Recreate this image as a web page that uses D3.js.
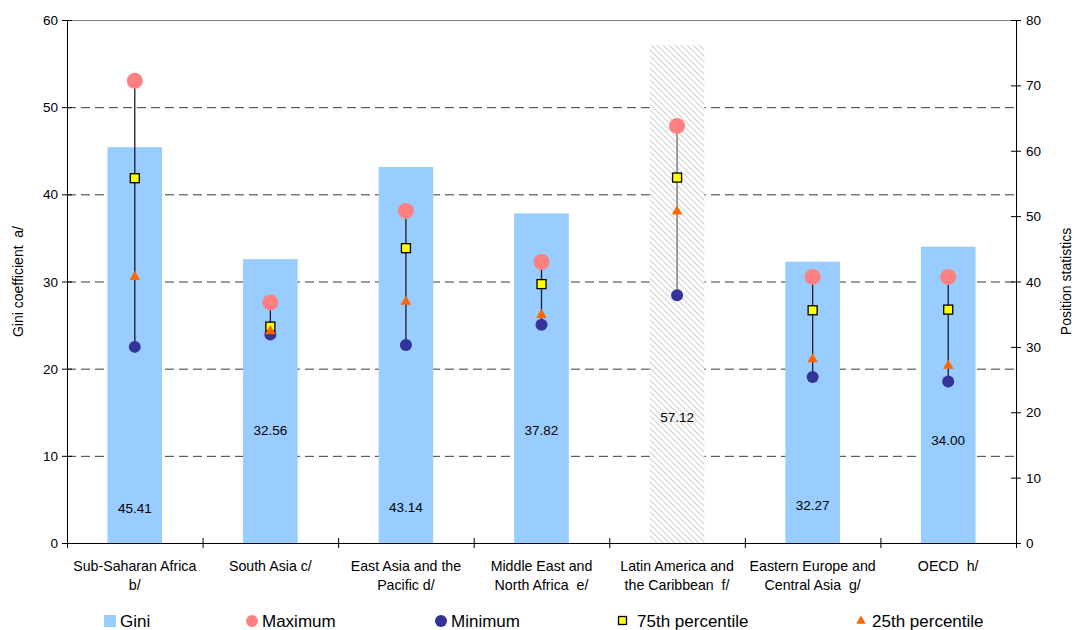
<!DOCTYPE html>
<html>
<head>
<meta charset="utf-8">
<script src="https://cdn.jsdelivr.net/npm/d3@7"></script>
<style>
  html, body { margin: 0; padding: 0; background: #fff; }
  svg { display: block; font-family: "Liberation Sans", Arial, sans-serif; }
  svg text { white-space: pre; }
</style>
</head>
<body>
<svg id="chart" width="1074" height="630"></svg>
<script>
// ---- data ----
const categories = [
  ["Sub-Saharan Africa", "b/"],
  ["South Asia c/"],
  ["East Asia and the", "Pacific d/"],
  ["Middle East and", "North Africa  e/"],
  ["Latin America and", "the Caribbean  f/"],
  ["Eastern Europe and", "Central Asia  g/"],
  ["OECD  h/"]
];
const gini        = [45.41, 32.56, 43.14, 37.82, 57.12, 32.27, 34.00];
const maximum     = [70.7, 36.8, 50.8, 43.0, 63.8, 40.7, 40.7];
const minimum     = [30.0, 31.9, 30.3, 33.4, 37.9, 25.4, 24.7];
const pct75       = [55.8, 33.1, 45.1, 39.6, 55.9, 35.6, 35.7];
const pct25       = [40.7, 32.4, 36.9, 34.9, 50.7, 28.1, 27.1];
const hatched     = [false, false, false, false, true, false, false];
const leftTicks   = [0, 10, 20, 30, 40, 50, 60];
const rightTicks  = [0, 10, 20, 30, 40, 50, 60, 70, 80];
const legendItems = ["Gini", "Maximum", "Minimum", "75th percentile", "25th percentile"];
// label anchor heights (in left-axis units) as placed in the original
const labelAt     = [4.0, 13.0, 4.1, 13.0, 14.5, 4.4, 11.8];

// ---- layout ----
const L = 67, R = 1016, T = 20, B = 543;
const svg = d3.select("#chart");
const x = d3.scaleBand().domain(d3.range(categories.length)).range([L, R]).paddingInner(0).paddingOuter(0);
const yL = d3.scaleLinear().domain([0, 60]).range([B, T]);
const yR = d3.scaleLinear().domain([0, 80]).range([B, T]);
const barW = x.bandwidth() * 0.403;
const cx = i => x(i) + x.bandwidth() / 2;

// hatch pattern
const defs = svg.append("defs");
const pat = defs.append("pattern").attr("id", "hatch").attr("patternUnits", "userSpaceOnUse")
  .attr("width", 6).attr("height", 6);
pat.append("rect").attr("width", 6).attr("height", 6).attr("fill", "#fff");
pat.append("path").attr("d", "M-1,-1 L7,7 M-1,5 L1,7 M5,-1 L7,1")
  .attr("stroke", "#d2d2d2").attr("stroke-width", 1.1);

// gridlines
svg.append("g").selectAll("line").data(leftTicks.filter(t => t > 0 && t < 60)).join("line")
  .attr("x1", L).attr("x2", R).attr("y1", d => yL(d) + 0.5).attr("y2", d => yL(d) + 0.5)
  .attr("stroke", "#3a3a3a").attr("stroke-width", 1).attr("stroke-dasharray", "9,5");
svg.append("line").attr("x1", L).attr("x2", R).attr("y1", yL(60) + 0.5).attr("y2", yL(60) + 0.5)
  .attr("stroke", "#808080").attr("stroke-width", 1);

// bars
svg.append("g").selectAll("rect").data(gini).join("rect")
  .attr("x", (d, i) => cx(i) - barW / 2)
  .attr("width", barW)
  .attr("y", d => yL(d))
  .attr("height", d => B - yL(d))
  .attr("fill", (d, i) => hatched[i] ? "url(#hatch)" : "#99CCFF");

// bar value labels
svg.append("g").selectAll("text").data(gini).join("text")
  .attr("x", (d, i) => cx(i))
  .attr("y", (d, i) => yL(labelAt[i]) + 5)
  .attr("text-anchor", "middle").attr("font-size", 13.5).attr("fill", "#000")
  .text(d => d.toFixed(2));

// range lines
svg.append("g").selectAll("line").data(maximum).join("line")
  .attr("x1", (d, i) => cx(i)).attr("x2", (d, i) => cx(i))
  .attr("y1", d => yR(d)).attr("y2", (d, i) => yR(minimum[i]))
  .attr("stroke", (d, i) => hatched[i] ? "#707070" : "#1a1a2a").attr("stroke-width", 1.3);

// markers
svg.append("g").selectAll("circle").data(maximum).join("circle")
  .attr("cx", (d, i) => cx(i)).attr("cy", d => yR(d)).attr("r", 8).attr("fill", "#FF8080");
svg.append("g").selectAll("circle").data(minimum).join("circle")
  .attr("cx", (d, i) => cx(i)).attr("cy", d => yR(d)).attr("r", 6).attr("fill", "#333399");
svg.append("g").selectAll("rect").data(pct75).join("rect")
  .attr("x", (d, i) => cx(i) - 4.5).attr("y", d => yR(d) - 4.5)
  .attr("width", 9).attr("height", 9)
  .attr("fill", "#FFFF00").attr("stroke", "#000").attr("stroke-width", 1.3);
const tri = d3.symbol().type(d3.symbolTriangle).size(48);
svg.append("g").selectAll("path").data(pct25).join("path")
  .attr("transform", (d, i) => `translate(${cx(i)},${yR(d)})`)
  .attr("d", tri).attr("fill", "#FF6600");

// axes
const tickLen = 5;
const gAx = svg.append("g").attr("stroke", "#000").attr("stroke-width", 1);
gAx.append("line").attr("x1", L + 0.5).attr("x2", L + 0.5).attr("y1", T).attr("y2", B + 0.5);
gAx.append("line").attr("x1", R + 0.5).attr("x2", R + 0.5).attr("y1", T).attr("y2", B + 0.5);
gAx.append("line").attr("x1", L - tickLen).attr("x2", R + tickLen).attr("y1", B + 0.5).attr("y2", B + 0.5);
gAx.selectAll(".tl").data(leftTicks).join("line").attr("class", "tl")
  .attr("x1", L - tickLen).attr("x2", L + tickLen)
  .attr("y1", d => yL(d) + 0.5).attr("y2", d => yL(d) + 0.5);
gAx.selectAll(".tr").data(rightTicks).join("line").attr("class", "tr")
  .attr("x1", R - tickLen).attr("x2", R + tickLen)
  .attr("y1", d => yR(d) + 0.5).attr("y2", d => yR(d) + 0.5);
gAx.selectAll(".tb").data(d3.range(categories.length + 1)).join("line").attr("class", "tb")
  .attr("x1", d => (d < categories.length ? x(d) : R) + 0.5)
  .attr("x2", d => (d < categories.length ? x(d) : R) + 0.5)
  .attr("y1", B - tickLen).attr("y2", B + tickLen);

svg.append("g").selectAll("text").data(leftTicks).join("text")
  .attr("x", L - 9).attr("y", d => yL(d) + 5)
  .attr("text-anchor", "end").attr("font-size", 13.5).text(d => d);
svg.append("g").selectAll("text").data(rightTicks).join("text")
  .attr("x", R + 10).attr("y", d => yR(d) + 5)
  .attr("text-anchor", "start").attr("font-size", 13.5).text(d => d);

// category labels
const cl = svg.append("g").selectAll("text").data(categories).join("text")
  .attr("text-anchor", "middle").attr("font-size", 14.2);
cl.each(function(lines, i) {
  d3.select(this).selectAll("tspan").data(lines).join("tspan")
    .attr("x", cx(i)).attr("y", (d, j) => 571 + j * 19).text(d => d);
});

// axis titles
svg.append("text").attr("transform", `translate(23,${(T + B) / 2}) rotate(-90)`)
  .attr("text-anchor", "middle").attr("font-size", 14).text("Gini coefficient  a/");
svg.append("text").attr("transform", `translate(1071,${(T + B) / 2}) rotate(-90)`)
  .attr("text-anchor", "middle").attr("font-size", 14).text("Position statistics");

// legend
const legX = [104, 246, 435, 617, 856];
const lg = svg.append("g");
legendItems.forEach((name, i) => {
  const g = lg.append("g").attr("transform", `translate(${legX[i]},621)`);
  if (i === 0) g.append("rect").attr("x", 0).attr("y", -6).attr("width", 12).attr("height", 12).attr("fill", "#99CCFF");
  if (i === 1) g.append("circle").attr("cx", 6).attr("cy", 0).attr("r", 6).attr("fill", "#FF8080");
  if (i === 2) g.append("circle").attr("cx", 6).attr("cy", 0).attr("r", 6).attr("fill", "#333399");
  if (i === 3) g.append("rect").attr("x", 1.5).attr("y", -4.5).attr("width", 8).attr("height", 8)
      .attr("fill", "#FFFF00").attr("stroke", "#000").attr("stroke-width", 1.3);
  if (i === 4) g.append("path").attr("transform", "translate(5,0)").attr("d", d3.symbol().type(d3.symbolTriangle).size(40)).attr("fill", "#FF6600");
  g.append("text").attr("x", i === 3 ? 20 : 16).attr("y", 6).attr("font-size", 17).text(name);
});
</script>
</body>
</html>
